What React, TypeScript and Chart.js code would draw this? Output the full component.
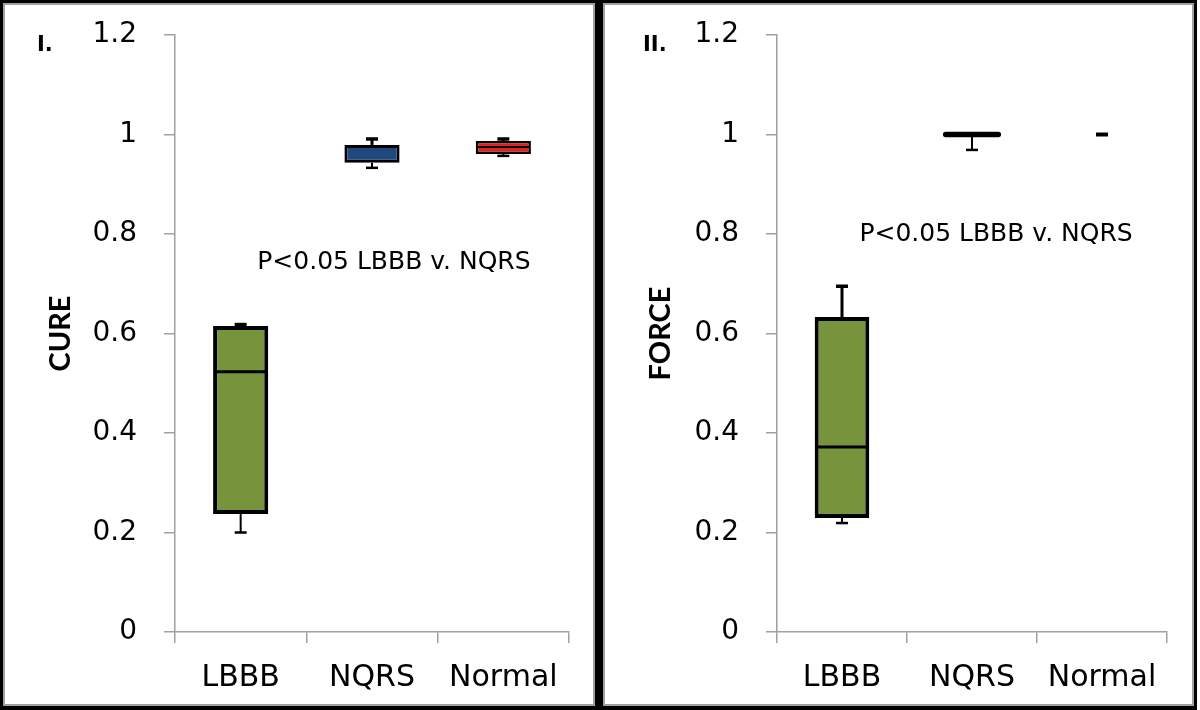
import React, { useEffect, useRef } from "react";
import { Chart, registerables } from "chart.js";

Chart.register(...registerables);

const categories = ["LBBB", "NQRS", "Normal"];
const boxColors = ["#77933C", "#1F497D", "#E3201C"];
const yTicks = [0, 0.2, 0.4, 0.6, 0.8, 1, 1.2];

// Panel I — CURE
const cureQ1 = [0.237, 0.943, 0.961];
const cureQ3 = [0.615, 0.979, 0.987];
const cureMedian = [0.523, 0.977, 0.975];
const cureMin = [0.2, 0.933, 0.957];
const cureMax = [0.618, 0.991, 0.991];

// Panel II — FORCE
const forceQ1 = [0.229, 1.0, null];
const forceQ3 = [0.633, 1.0, null];
const forceMedian = [0.372, 1.0, null];
const forceMin = [0.219, 0.969, 1.0];
const forceMax = [0.695, 1.0, 1.0];

const annotationText = "P<0.05 LBBB v. NQRS";

const FONT = "'DejaVu Sans', sans-serif";
const AXIS_GRAY = "#a0a0a0";

type PanelProps = {
  q1: (number | null)[];
  q3: (number | null)[];
  med: (number | null)[];
  mn: (number | null)[];
  mx: (number | null)[];
  title: string;
  label: string;
  annX: number;
  annY: number;
  width: number;
  height: number;
  padRight: number;
  yWidth: number;
  labelX: number;
};

const boxPlugin = {
  id: "boxWhiskers",
  afterDatasetsDraw(chart: any, _args: any, opts: any) {
    const { ctx } = chart;
    const xs = chart.scales.x;
    const ys = chart.scales.y;
    const meta = chart.getDatasetMeta(0);
    const { q1, q3, med, mn, mx } = opts;
    ctx.save();
    ctx.strokeStyle = "#000";
    ctx.lineCap = "butt";
    for (let i = 0; i < categories.length; i++) {
      const x = xs.getPixelForValue(i);
      const bw = meta.data[i] ? meta.data[i].width : 54;
      const cap = 6;
      const hasBox = q1[i] !== null && q3[i] !== null;
      if (mn[i] !== null && mx[i] !== null && mn[i] === mx[i]) {
        const y = ys.getPixelForValue(mn[i]);
        ctx.lineWidth = 4;
        ctx.beginPath();
        ctx.moveTo(x - cap, y);
        ctx.lineTo(x + cap, y);
        ctx.stroke();
      } else {
        if (mn[i] !== null) {
          const yMin = ys.getPixelForValue(mn[i]);
          const yFrom = hasBox ? ys.getPixelForValue(q1[i]) : ys.getPixelForValue(med[i]);
          ctx.lineWidth = 2;
          ctx.beginPath();
          ctx.moveTo(x, yFrom);
          ctx.lineTo(x, yMin);
          ctx.stroke();
          ctx.lineWidth = 2.5;
          ctx.beginPath();
          ctx.moveTo(x - cap, yMin);
          ctx.lineTo(x + cap, yMin);
          ctx.stroke();
        }
        if (mx[i] !== null) {
          const yMax = ys.getPixelForValue(mx[i]);
          const yFrom = hasBox ? ys.getPixelForValue(q3[i]) : ys.getPixelForValue(med[i]);
          ctx.lineWidth = 3;
          ctx.beginPath();
          ctx.moveTo(x, yFrom);
          ctx.lineTo(x, yMax);
          ctx.stroke();
          ctx.lineWidth = 3.5;
          ctx.beginPath();
          ctx.moveTo(x - cap, yMax);
          ctx.lineTo(x + cap, yMax);
          ctx.stroke();
        }
      }
      if (med[i] !== null && hasBox) {
        const y = ys.getPixelForValue(med[i]);
        const boxH = Math.abs(ys.getPixelForValue(q1[i]) - ys.getPixelForValue(q3[i]));
        ctx.lineWidth = q1[i] === q3[i] ? 5.5 : boxH < 25 ? 2 : 3;
        ctx.lineCap = q1[i] === q3[i] ? "round" : "butt";
        ctx.beginPath();
        ctx.moveTo(x - bw / 2 + 1, y);
        ctx.lineTo(x + bw / 2 - 1, y);
        ctx.stroke();
        ctx.lineCap = "butt";
      }
    }
    ctx.restore();
  },
};

const textPlugin = {
  id: "panelText",
  afterDraw(chart: any, _args: any, opts: any) {
    const { ctx } = chart;
    const xs = chart.scales.x;
    const ys = chart.scales.y;
    ctx.save();
    ctx.fillStyle = "#000";
    ctx.textAlign = "center";
    ctx.textBaseline = "middle";
    ctx.font = `25px ${FONT}`;
    ctx.fillText(opts.text, xs.getPixelForValue(opts.annX), ys.getPixelForValue(opts.annY));
    ctx.textAlign = "left";
    ctx.font = `bold 21px ${FONT}`;
    ctx.fillText(opts.label, opts.labelX, 41);
    ctx.restore();
  },
};

function Panel(p: PanelProps) {
  const ref = useRef<HTMLCanvasElement | null>(null);
  useEffect(() => {
    if (!ref.current) return;
    const boxData = categories.map((_, i) =>
      p.q1[i] === null || p.q3[i] === null ? null : [p.q1[i], p.q3[i]]
    );
    const chart = new Chart(ref.current, {
      type: "bar",
      data: {
        labels: categories,
        datasets: [
          {
            data: boxData as any,
            backgroundColor: boxColors,
            borderColor: "#000",
            borderWidth: [4, 3, 2.5],
            borderSkipped: false,
            barPercentage: 0.42,
            categoryPercentage: 1,
          },
        ],
      },
      options: {
        responsive: false,
        animation: false,
        devicePixelRatio: 1,
        layout: { padding: { top: 30, right: p.padRight, left: 0, bottom: 0 } },
        plugins: {
          legend: { display: false },
          tooltip: { enabled: false },
          boxWhiskers: { q1: p.q1, q3: p.q3, med: p.med, mn: p.mn, mx: p.mx },
          panelText: { text: annotationText, annX: p.annX, annY: p.annY, label: p.label, labelX: p.labelX },
        } as any,
        scales: {
          x: {
            type: "category",
            offset: true,
            grid: {
              display: true,
              offset: true,
              drawOnChartArea: false,
              drawTicks: true,
              tickLength: 11,
              color: AXIS_GRAY,
              lineWidth: 1.5,
            },
            border: { display: true, color: AXIS_GRAY, width: 1.5 },
            ticks: { color: "#000", font: { family: FONT, size: 30 }, padding: 17, maxRotation: 0 },
            afterFit: (s: any) => {
              s.height = 72;
              s.paddingLeft = 0;
              s.paddingRight = 0;
            },
          },
          y: {
            min: 0,
            max: 1.2,
            afterBuildTicks: (s: any) => {
              s.ticks = yTicks.map((v) => ({ value: v }));
            },
            grid: {
              display: true,
              drawOnChartArea: false,
              drawTicks: true,
              tickLength: 11,
              color: AXIS_GRAY,
              lineWidth: 1.5,
            },
            border: { display: true, color: AXIS_GRAY, width: 1.5 },
            ticks: {
              color: "#000",
              font: { family: FONT, size: 28 },
              padding: 27,
              callback: (v: any) => String(Number(Number(v).toFixed(1))),
            },
            title: {
              display: true,
              text: p.title,
              color: "#000",
              font: { family: "Lato, sans-serif", size: 29, weight: "bold" },
              padding: { top: 38, bottom: 0 },
            },
            afterFit: (s: any) => {
              s.width = p.yWidth;
              s.paddingTop = 0;
              s.paddingBottom = 0;
            },
          },
        },
      },
      plugins: [boxPlugin, textPlugin],
    });
    return () => chart.destroy();
  }, []);
  return (
    <canvas
      ref={ref}
      width={p.width}
      height={p.height}
      style={{ display: "block", width: p.width, height: p.height }}
    />
  );
}

const panelStyle: React.CSSProperties = {
  position: "absolute",
  top: 3,
  height: 703,
  border: `2px solid ${AXIS_GRAY}`,
  boxSizing: "border-box",
  background: "#fff",
  overflow: "hidden",
};

export default function App() {
  return (
    <div
      style={{
        position: "absolute",
        left: 0,
        top: 0,
        width: 1197,
        height: 710,
        background: "#000",
      }}
    >
      <div style={{ ...panelStyle, left: 3, width: 592 }}>
        <Panel
          q1={cureQ1}
          q3={cureQ3}
          med={cureMedian}
          mn={cureMin}
          mx={cureMax}
          title="CURE"
          label="I."
          annX={1.167}
          annY={0.742}
          width={588}
          height={699}
          padRight={24}
          yWidth={170}
          labelX={32}
        />
      </div>
      <div style={{ ...panelStyle, left: 603, width: 591 }}>
        <Panel
          q1={forceQ1}
          q3={forceQ3}
          med={forceMedian}
          mn={forceMin}
          mx={forceMax}
          title="FORCE"
          label="II."
          annX={1.185}
          annY={0.8}
          width={587}
          height={699}
          padRight={25}
          yWidth={172}
          labelX={38}
        />
      </div>
    </div>
  );
}
